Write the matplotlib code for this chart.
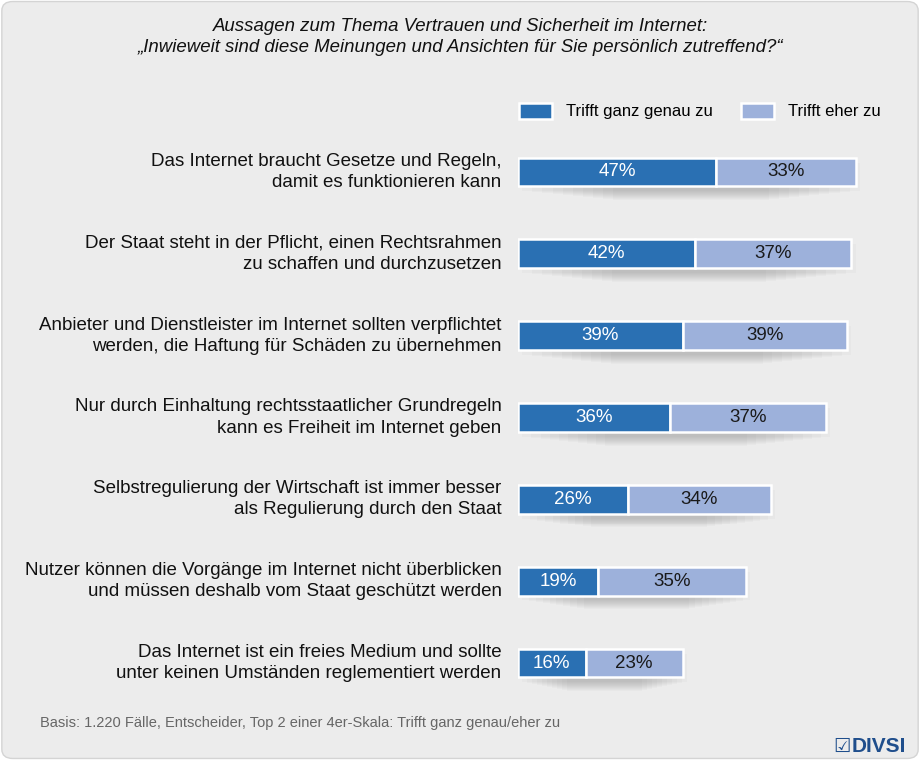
import matplotlib
matplotlib.use("Agg")
from matplotlib import pyplot as plt
from matplotlib.patches import FancyBboxPatch
import numpy as np

plt.rcParams['font.family'] = ['Liberation Sans', 'DejaVu Sans']

# Data
statements = [
    'Das Internet braucht Gesetze und Regeln,\ndamit es funktionieren kann',
    'Der Staat steht in der Pflicht, einen Rechtsrahmen\nzu schaffen und durchzusetzen',
    'Anbieter und Dienstleister im Internet sollten verpflichtet\nwerden, die Haftung für Schäden zu übernehmen',
    'Nur durch Einhaltung rechtsstaatlicher Grundregeln\nkann es Freiheit im Internet geben',
    'Selbstregulierung der Wirtschaft ist immer besser\nals Regulierung durch den Staat',
    'Nutzer können die Vorgänge im Internet nicht überblicken\nund müssen deshalb vom Staat geschützt werden',
    'Das Internet ist ein freies Medium und sollte\nunter keinen Umständen reglementiert werden',
]
ganz_genau = [47, 42, 39, 36, 26, 19, 16]
eher = [33, 37, 39, 37, 34, 35, 23]
series_names = ['Trifft ganz genau zu', 'Trifft eher zu']

dark = '#2a70b3'
light = '#9db1db'
bg = '#ececec'

fig = plt.figure(figsize=(9.2, 7.6), dpi=100)
fig.patch.set_facecolor('white')

# rounded background panel
panel = FancyBboxPatch((0.002, 0.002), 0.996, 0.996, boxstyle='round,pad=0,rounding_size=0.012',
                       transform=fig.transFigure, facecolor=bg, edgecolor='#d4d4d4', lw=1,
                       zorder=-10)
fig.patches.append(panel)

ax = fig.add_axes([518 / 920, (760 - 704) / 760, 379 / 920, 573 / 760])
ax.set_facecolor('none')
ax.set_xlim(0, 89.8)
ax.set_ylim(6.5, -0.5)
ax.axis('off')

y = np.arange(len(statements))
h = 0.35
tot = np.array(ganz_genau) + np.array(eher)

# soft blurred shadow under the bars
for k in range(10):
    shrink = 0.03 * k
    ax.barh(y + 0.06 + 0.012 * k, tot * (1 - 2 * shrink), left=tot * shrink + 1,
            height=h, color='#505050', alpha=0.03, lw=0, zorder=1)

ax.barh(y, ganz_genau, height=h, color=dark, edgecolor='white', lw=1.8, zorder=3,
        label=series_names[0])
ax.barh(y, eher, left=ganz_genau, height=h, color=light, edgecolor='white', lw=1.8, zorder=3,
        label=series_names[1])

for i in range(len(statements)):
    ax.text(ganz_genau[i] / 2, y[i], f'{ganz_genau[i]}%', ha='center', va='center',
            color='white', fontsize=13.5, zorder=4)
    ax.text(ganz_genau[i] + eher[i] / 2, y[i], f'{eher[i]}%', ha='center', va='center',
            color='#1a1a1a', fontsize=13.5, zorder=4)
    ax.text(-3.9, y[i], statements[i], ha='right', va='center', fontsize=13.5,
            color='#111111', linespacing=1.32)

leg = fig.legend(loc='center left', bbox_to_anchor=(504 / 920, 1 - 111 / 760), ncol=2,
                 frameon=False, fontsize=12, handlelength=2.0, handleheight=1.1,
                 columnspacing=1.7, handletextpad=0.8)

fig.text(0.5, 1 - 37 / 760,
         'Aussagen zum Thema Vertrauen und Sicherheit im Internet:\n'
         '\u201eInwieweit sind diese Meinungen und Ansichten für Sie persönlich zutreffend?\u201c',
         ha='center', va='center', fontsize=13.4, style='italic', color='#111111',
         linespacing=1.3)

fig.text(40 / 920, 1 - 723 / 760,
         'Basis: 1.220 Fälle, Entscheider, Top 2 einer 4er-Skala: Trifft ganz genau/eher zu',
         ha='left', va='center', fontsize=10.5, color='#666666')

fig.text(851 / 920, 1 - 746 / 760, '\u2611', ha='right', va='center', fontsize=14,
         color='#1f4e8c', family=['DejaVu Sans'])
fig.text(906 / 920, 1 - 746 / 760, 'DIVSI', ha='right', va='center', fontsize=15,
         color='#1f4e8c', fontweight='bold')

fig.savefig('out.png', dpi=100, facecolor=fig.get_facecolor())
